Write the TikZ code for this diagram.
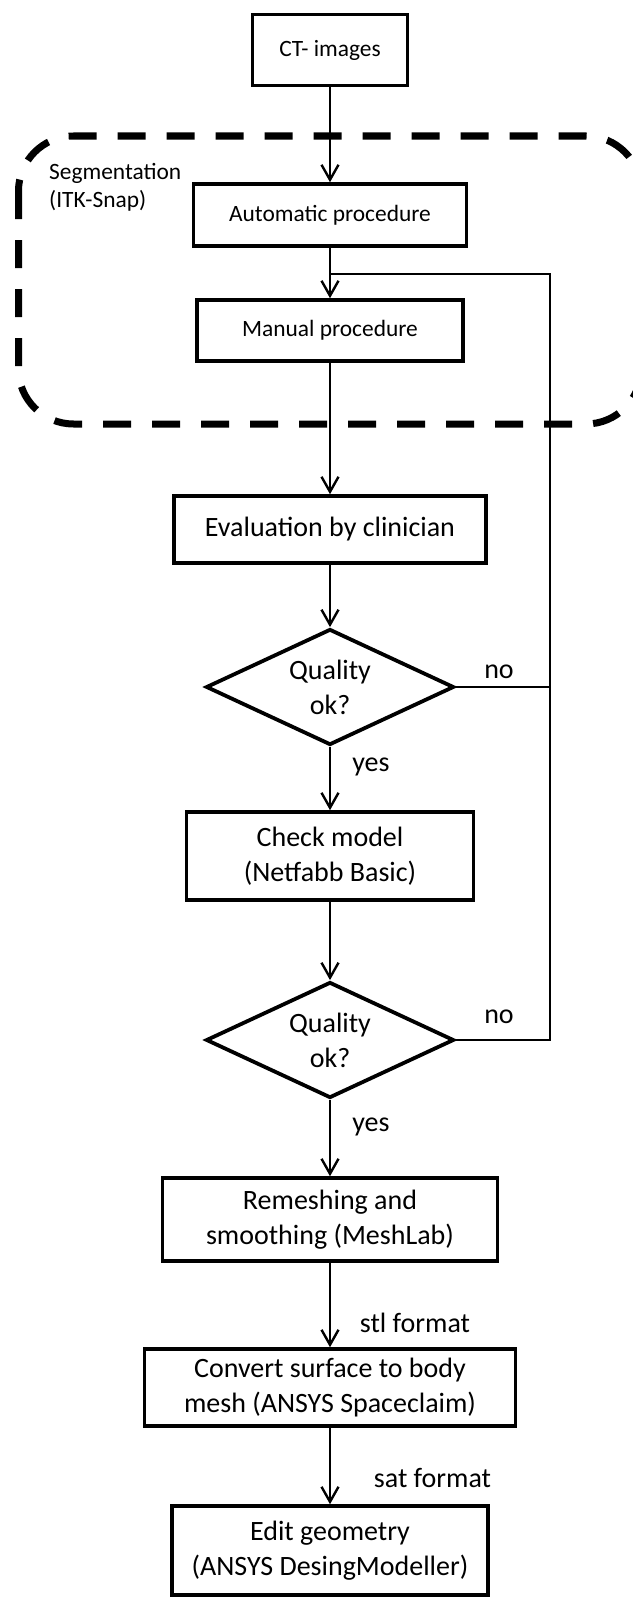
\documentclass[tikz,border=0pt]{standalone}
\usepackage{fontspec}
\setmainfont{Carlito}
\usepackage{tikz}
\usetikzlibrary{arrows.meta,shapes.geometric}

\newcommand{\bigtext}{\fontsize{28pt}{35pt}\selectfont}
\newcommand{\smalltext}{\fontsize{23.4pt}{28.5pt}\selectfont}

\tikzset{
  stepbox/.style={draw, line width=3.6pt, rectangle, align=center, inner sep=0pt, font=\bigtext},
  smallbox/.style={stepbox, font=\smalltext},
  decision/.style={draw, line width=3.8pt, diamond, aspect=2.1, inner sep=0pt, align=center,
    font=\bigtext, minimum width=248pt, minimum height=116pt},
  flow/.style={line width=2.4pt, -{Straight Barb[length=15pt,width=17pt]}},
  link/.style={line width=2.4pt},
  lbl/.style={font=\bigtext, inner sep=0pt},
  segframe/.style={line width=7pt, dash pattern=on 28pt off 21pt, rounded corners=55pt}
}

\begin{document}
\begin{tikzpicture}[x=1pt,y=-1pt]
    \useasboundingbox (0,0) rectangle (632,1600);
    \draw[segframe] (18.5,136) rectangle (641,424);
    \node (seglbl) at (49,187.5) [anchor=west, align=left, font=\smalltext, inner sep=0pt] {Segmentation\\(ITK-Snap)};
    \node (ct) at (330,50) [smallbox, minimum width=155pt, minimum height=71pt] {CT- images};
    \node (auto) at (330,215) [smallbox, minimum width=273pt, minimum height=62pt] {Automatic procedure};
    \node (manual) at (330,330.5) [smallbox, minimum width=266pt, minimum height=61pt] {Manual procedure};
    \node (eval) at (330,529.5) [stepbox, minimum width=312pt, minimum height=67pt] {Evaluation by clinician};
    \node (qual1) at (330,687) [decision] {Quality\\ok?};
    \node (check) at (330,856) [stepbox, minimum width=287pt, minimum height=88pt] {Check model\\(Netfabb Basic)};
    \node (qual2) at (330,1040) [decision] {Quality\\ok?};
    \node (remesh) at (330,1219.5) [stepbox, minimum width=335pt, minimum height=83pt] {Remeshing and\\smoothing (MeshLab)};
    \node (convert) at (330,1387.5) [stepbox, minimum width=371pt, minimum height=77pt] {Convert surface to body\\mesh (ANSYS Spaceclaim)};
    \node (edit) at (330,1550.5) [stepbox, minimum width=316pt, minimum height=89pt] {Edit geometry\\(ANSYS DesingModeller)};
    \coordinate (loopright) at (550,274);
    \coordinate (loopjoin) at (330,274);
    \draw[flow] (ct) -- (auto);
    \draw[flow] (auto) -- (manual);
    \draw[flow] (manual) -- (eval);
    \draw[flow] (eval) -- (qual1);
    \draw[flow] (qual1) -- (check);
    \draw[flow] (check) -- (qual2);
    \draw[flow] (qual2) -- (remesh);
    \draw[flow] (remesh) -- (convert);
    \draw[flow] (convert) -- (edit);
    \draw[link] (qual2.east) -| (loopright) -- (loopjoin);
    \draw[link] (qual1.east) -- (qual1.east -| loopright);
    \node (no1) at (499,672) [lbl] {no};
    \node (yes1) at (371,767) [lbl] {yes};
    \node (no2) at (499,1017) [lbl] {no};
    \node (yes2) at (371,1127) [lbl] {yes};
    \node (stl) at (415,1323) [lbl] {stl format};
    \node (sat) at (432.5,1478) [lbl] {sat format};
  \end{tikzpicture}
\end{document}
